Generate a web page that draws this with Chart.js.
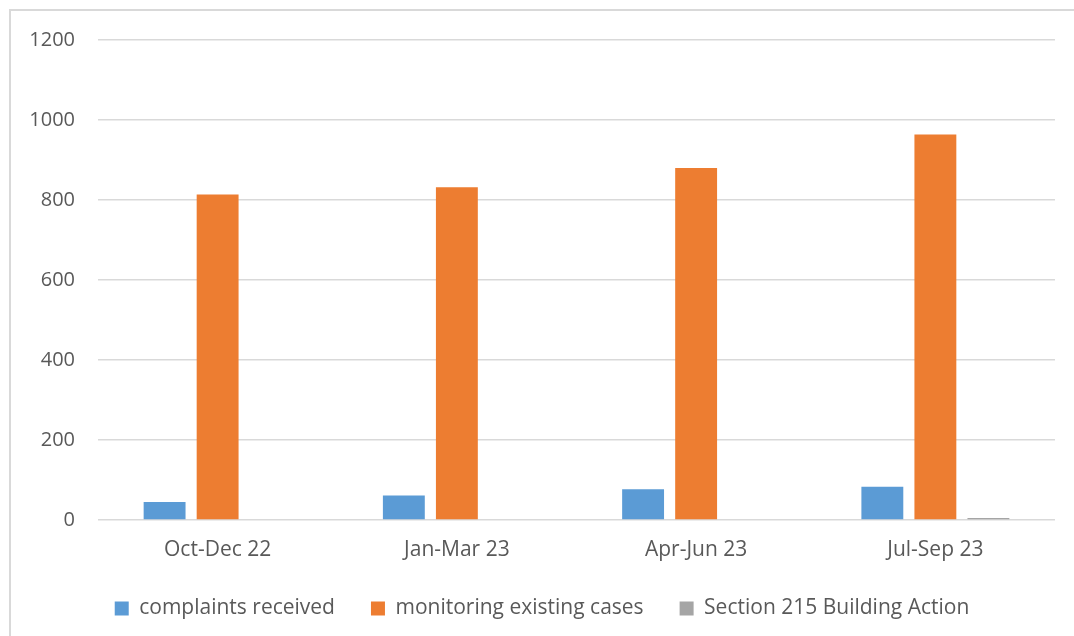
<!DOCTYPE html>
<html>
<head>
<meta charset="utf-8">
<script src="https://cdn.jsdelivr.net/npm/chart.js@4/dist/chart.umd.min.js"></script>
<style>
  html, body { margin: 0; padding: 0; background: #fff; }
  #wrap { position: relative; width: 1074px; height: 636px; overflow: hidden; }
  #frame { position: absolute; left: 9px; top: 9px; right: -10px; bottom: -10px;
           border-top: 2px solid #d9d9d9; border-left: 2px solid #d9d9d9; }
  canvas { position: absolute; left: 0; top: 0; }
</style>
</head>
<body>
<div id="wrap">
  <div id="frame"></div>
  <canvas id="chart" width="1074" height="636"></canvas>
</div>
<script>
// quarters and counts per series
const quarters = ['Oct-Dec 22', 'Jan-Mar 23', 'Apr-Jun 23', 'Jul-Sep 23'];
const complaintsReceived = [45, 61, 77, 83];
const monitoringExisting = [814, 832, 880, 964];
const section215Action = [0, 0, 0, 5];
const yTicks = [0, 200, 400, 600, 800, 1000, 1200];

const FONT = '"Open Sans", "Noto Sans", sans-serif';
const TEXT = '#595959';

new Chart(document.getElementById('chart').getContext('2d'), {
  type: 'bar',
  data: {
    labels: quarters,
    datasets: [
      { label: 'complaints received', data: complaintsReceived, backgroundColor: '#5B9BD5' },
      { label: 'monitoring existing cases', data: monitoringExisting, backgroundColor: '#ED7D31' },
      { label: 'Section 215 Building Action', data: section215Action, backgroundColor: '#A5A5A5' }
    ]
  },
  options: {
    responsive: false,
    animation: false,
    categoryPercentage: 0.665,
    barPercentage: 0.79,
    layout: { padding: { left: 29, right: 19, top: 40, bottom: 7 } },
    plugins: {
      tooltip: { enabled: false },
      legend: {
        position: 'bottom',
        labels: {
          boxWidth: 14,
          boxHeight: 14,
          padding: 36,
          color: TEXT,
          font: { family: FONT, size: 21 }
        }
      }
    },
    scales: {
      x: {
        afterFit: (axis) => { axis.height = 42; },
        grid: { display: false, drawTicks: false },
        border: { display: false },
        ticks: { color: TEXT, padding: 17, font: { family: FONT, size: 21 } }
      },
      y: {
        min: 0,
        max: 1200,
        afterBuildTicks: (axis) => { axis.ticks = yTicks.map(v => ({ value: v })); },
        afterFit: (axis) => { axis.width = 69; },
        grid: { color: '#d9d9d9', lineWidth: 1.5, drawTicks: false },
        border: { display: false },
        ticks: {
          color: TEXT,
          padding: 23,
          font: { family: FONT, size: 20 },
          callback: (v) => String(v)
        }
      }
    }
  }
});
</script>
</body>
</html>
